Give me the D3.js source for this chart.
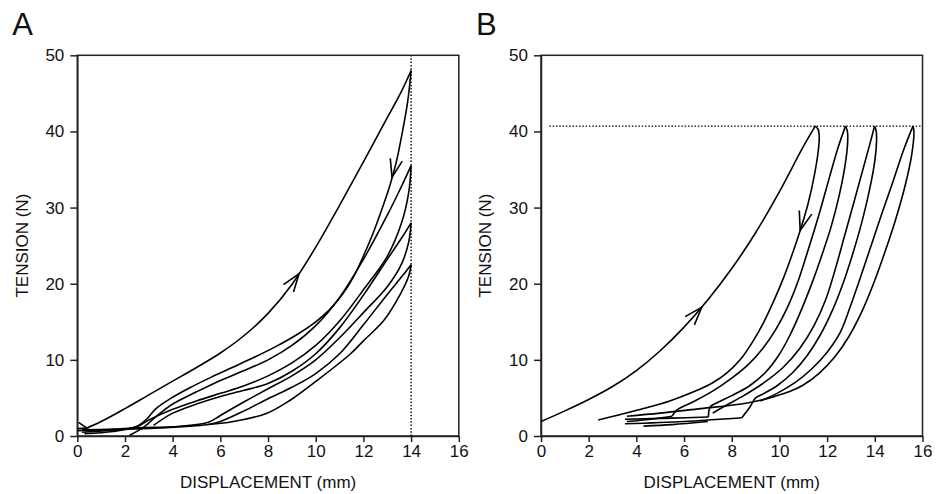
<!DOCTYPE html>
<html>
<head>
<meta charset="utf-8">
<script src="https://cdn.jsdelivr.net/npm/d3@7"></script>
<style>
  body { margin: 0; background: #fff; }
  svg { display: block; }
  text { font-family: "Liberation Sans", Arial, sans-serif; fill: #111; }
</style>
</head>
<body>
<svg id="chart" width="937" height="494"></svg>
<script>
// ---- axis ticks ----
const xTicks = [0, 2, 4, 6, 8, 10, 12, 14, 16];
const yTicks = [0, 10, 20, 30, 40, 50];

// ---- panel A : cycles to a fixed displacement (14 mm) ----
const aLoad1 = [[0.4,1.05],[1,1.9],[2,3.6],[3,5.4],[4,7.2],[5,9.0],[6,10.9],[7,13.2],[8,16.1],[9,19.9],[10,24.8],[11,30.3],[12,36.0],[13,41.8],[13.6,45.3],[14,48.0]];
const aUnload1 = [[14.0,48],[13.86,44],[13.64,40],[13.38,36],[13.12,33],[12.8,30],[12.45,27],[12.05,24],[11.6,21],[11.1,18.5],[10.55,16.5],[10.0,15],[9.2,13.3],[8.3,11.7],[7.4,10.3],[6.5,9.0],[5.6,7.7],[4.7,6.3],[3.9,4.9],[3.3,3.6],[2.9,2.2],[2.5,1.3],[2.0,0.9],[1.2,0.7],[0.2,0.5]];
const aLoad2 = [[2.2,0.1],[2.8,1.2],[3.4,2.8],[4,4.2],[5,5.8],[6,7.3],[7,8.6],[8,10.0],[9,11.9],[10,14.5],[11,18.2],[12,23.2],[13,29.0],[13.6,32.8],[14,35.5]];
const aUnload2 = [[14,35.5],[13.9,32.0],[13.6,28.0],[13,23.6],[12,19.2],[11,15.1],[10,11.9],[9,9.6],[8,7.9],[7,6.6],[6,5.6],[5,4.6],[4,3.5],[3,2.1],[2.5,1.2],[1.5,0.6],[0.3,0.3]];
const aLoad3 = [[3.2,1.4],[4,3.0],[5,4.2],[6,5.2],[7,6.0],[8,6.9],[9,8.5],[10,10.8],[11,14.2],[12,18.5],[13,23.2],[13.6,26.0],[14,28.0]];
const aUnload3 = [[14,28.0],[13.9,25.5],[13.6,22.6],[13,19.6],[12,16.2],[11,12.9],[10,10.0],[9,7.9],[8,6.2],[7,4.5],[6,2.7],[5.5,1.8],[4,1.2],[2.8,1.1],[1.5,0.9],[0.2,0.8]];
const aLoad4 = [[5.5,1.5],[6,1.9],[7,3.3],[8,4.9],[9,6.4],[10,8.2],[11,10.8],[12,14.6],[13,18.6],[13.6,20.9],[14,22.5]];
const aUnload4 = [[14,22.5],[13.9,21.0],[13.56,18.7],[12.86,15.2],[12,12.5],[11.46,10.8],[10.06,7.3],[8.93,4.7],[7.96,3.0],[6.55,1.9],[5.15,1.4],[3.05,1.0],[0.95,0.8],[0,0.7]];
const aLimitX = 14;
// arrows: [tipX, tipY, backX, backY, arm length]
const aArrows = [[9.3,21.3,8.65,18.5,19],[13.2,34.0,13.51,38.0,19],[0.4,1.05,0.05,1.35,10]];

// ---- panel B : cycles to a fixed tension (40.7 N) ----
const bLoad1 = [[0,1.9],[1,3.3],[2,4.8],[3,6.5],[4,8.6],[5,11.2],[6,14.3],[7,17.9],[8,22.0],[9,26.7],[10,32.1],[11,38.0],[11.5,40.7]];
const bUnload1 = [[11.5,40.7],[11.62,40.3],[11.67,39.2],[11.63,37.5],[11.48,34.5],[11.2,30.5],[10.87,27],[10.55,24],[10.2,21],[9.8,18],[9.35,15],[8.9,12.5],[8.35,10],[7.8,8.3],[7.2,7.0],[6.4,5.8],[5.4,4.6],[4.3,3.6],[3.3,2.8],[2.4,2.1]];
const bLoad2 = [[5.5,2.6],[5.69,3.4],[6.45,4.6],[7.25,6.0],[8.0,7.6],[8.7,9.4],[9.3,11.5],[9.85,14],[10.35,17],[10.8,20.5],[11.2,24.4],[11.65,29],[12.1,34],[12.45,37.8],[12.77,40.7]];
const bUnload2 = [[12.77,40.7],[12.85,40],[12.86,38.5],[12.75,35.5],[12.5,31.5],[12.15,27.3],[11.85,24.4],[11.45,20.8],[10.95,16.8],[10.45,13.3],[9.95,10.5],[9.4,8.3],[8.75,6.6],[8.0,5.3],[7.4,4.4],[7.1,3.85],[7.02,2.5]];
const bLoad3 = [[7.2,3.0],[7.75,4.0],[8.5,5.3],[9.35,7.0],[10.15,9.0],[10.85,11.5],[11.45,14.5],[11.95,18],[12.35,22],[12.75,26.5],[13.15,31],[13.5,35],[13.78,38.2],[13.99,40.7]];
const bUnload3 = [[13.99,40.7],[14.06,40],[14.07,38.5],[13.97,35.5],[13.72,31.5],[13.38,27.2],[13.12,24.4],[12.72,20.5],[12.22,16.5],[11.7,13.2],[11.15,10.5],[10.55,8.3],[9.9,6.6],[9.3,5.5],[9.0,5.0],[8.77,3.85],[8.42,2.4]];
const bLoad4 = [[9.2,4.6],[9.9,5.6],[10.65,7.0],[11.35,8.8],[12.0,11],[12.55,13.6],[12.95,16.8],[13.35,20.4],[13.78,24.4],[14.25,28.8],[14.75,33.3],[15.2,37.5],[15.6,40.7]];
const bUnload4 = [[15.6,40.7],[15.64,40],[15.55,37],[15.28,33],[14.88,28.5],[14.45,24.4],[13.98,20.3],[13.45,16.3],[12.9,13],[12.3,10.3],[11.65,8.2],[11.0,6.7],[10.4,5.8],[9.8,5.2],[9.2,4.7],[8.4,4.2],[6.7,3.6],[5.0,3.0],[3.6,2.6]];
const bTail1 = [[7.02,2.5],[5.5,2.35],[3.52,2.2]];
const bTail2 = [[8.42,2.4],[6.0,1.9],[3.52,1.6]];
const bTail3 = [[4.3,1.3],[5.5,1.5],[7.0,1.9]];
const bTail4 = [[5.5,2.6],[4.6,2.2],[3.6,1.9]];
const bLimitY = 40.7;
const bArrows = [[6.74,16.9,6.0,14.3,19],[10.87,27.0,11.2,30.5,20]];

const svg = d3.select("#chart");

function drawPanel(left, letter, curves, arrows, limit) {
  const x = d3.scaleLinear().domain([0, 16]).range([left, left + 381.5]);
  const y = d3.scaleLinear().domain([0, 50]).range([436, 55.3]);
  const g = svg.append("g");

  // frame
  g.append("rect")
    .attr("x", x(0)).attr("y", y(50))
    .attr("width", x(16) - x(0)).attr("height", y(0) - y(50))
    .attr("fill", "none").attr("stroke", "#222").attr("stroke-width", 1.5);

  const xAxis = g.append("g")
    .attr("transform", `translate(0,${y(0)})`)
    .call(d3.axisBottom(x).tickValues(xTicks).tickSize(6).tickPadding(3).tickSizeOuter(0));
  const yAxis = g.append("g")
    .attr("transform", `translate(${x(0)},0)`)
    .call(d3.axisLeft(y).tickValues(yTicks).tickSize(7).tickPadding(6).tickSizeOuter(0));
  [xAxis, yAxis].forEach(a => {
    a.selectAll("path, line").attr("stroke", "#222").attr("stroke-width", 1.5);
    a.selectAll("text").attr("font-size", 17).attr("fill", "#111")
      .style("font-family", '"Liberation Sans", Arial, sans-serif');
  });

  // dotted limit line
  if (limit.type === "x") {
    g.append("line")
      .attr("x1", x(limit.v)).attr("x2", x(limit.v))
      .attr("y1", y(0)).attr("y2", y(50))
      .attr("stroke", "#000").attr("stroke-width", 1.4).attr("stroke-dasharray", "1.5,1.8");
  } else {
    g.append("line")
      .attr("x1", x(0.35)).attr("x2", x(16))
      .attr("y1", y(limit.v)).attr("y2", y(limit.v))
      .attr("stroke", "#000").attr("stroke-width", 1.4).attr("stroke-dasharray", "1.5,1.8");
  }

  const line = d3.line()
    .x(d => x(d[0]))
    .y(d => y(d[1]))
    .curve(d3.curveCatmullRom.alpha(0.5));

  g.append("g").selectAll("path")
    .data(curves)
    .join("path")
    .attr("d", line)
    .attr("fill", "none")
    .attr("stroke", "#000")
    .attr("stroke-width", 1.6)
    .attr("stroke-linejoin", "round");

  // open chevron arrows along the curves
  g.append("g").selectAll("path")
    .data(arrows)
    .join("path")
    .attr("d", d => {
      const tx = x(d[0]), ty = y(d[1]);
      const bx = x(d[2]), by = y(d[3]);
      const ang = Math.atan2(ty - by, tx - bx);
      const h = 19 * Math.PI / 180, L = d[4];
      const p1 = [tx - L * Math.cos(ang - h), ty - L * Math.sin(ang - h)];
      const p2 = [tx - L * Math.cos(ang + h), ty - L * Math.sin(ang + h)];
      return `M${p1[0]},${p1[1]}L${tx},${ty}L${p2[0]},${p2[1]}`;
    })
    .attr("fill", "none")
    .attr("stroke", "#000")
    .attr("stroke-width", 1.6);

  // titles
  g.append("text")
    .attr("x", (x(0) + x(16)) / 2).attr("y", 488)
    .attr("text-anchor", "middle").attr("font-size", 17)
    .text("DISPLACEMENT (mm)");
  g.append("text")
    .attr("transform", `translate(${x(0) - 55.5},${(y(0) + y(50)) / 2}) rotate(-90)`)
    .attr("text-anchor", "middle").attr("dy", "0.35em").attr("font-size", 17)
    .text("TENSION (N)");
  g.append("text")
    .attr("x", x(0) - 65).attr("y", 35)
    .attr("font-size", 31)
    .text(letter);
}

drawPanel(77.3, "A",
  [aLoad1, aUnload1, aLoad2, aUnload2, aLoad3, aUnload3, aLoad4, aUnload4],
  aArrows, {type: "x", v: aLimitX});

drawPanel(541, "B",
  [bLoad1, bUnload1, bLoad2, bUnload2, bLoad3, bUnload3, bLoad4, bUnload4, bTail1, bTail2, bTail3, bTail4],
  bArrows, {type: "y", v: bLimitY});
</script>
</body>
</html>
